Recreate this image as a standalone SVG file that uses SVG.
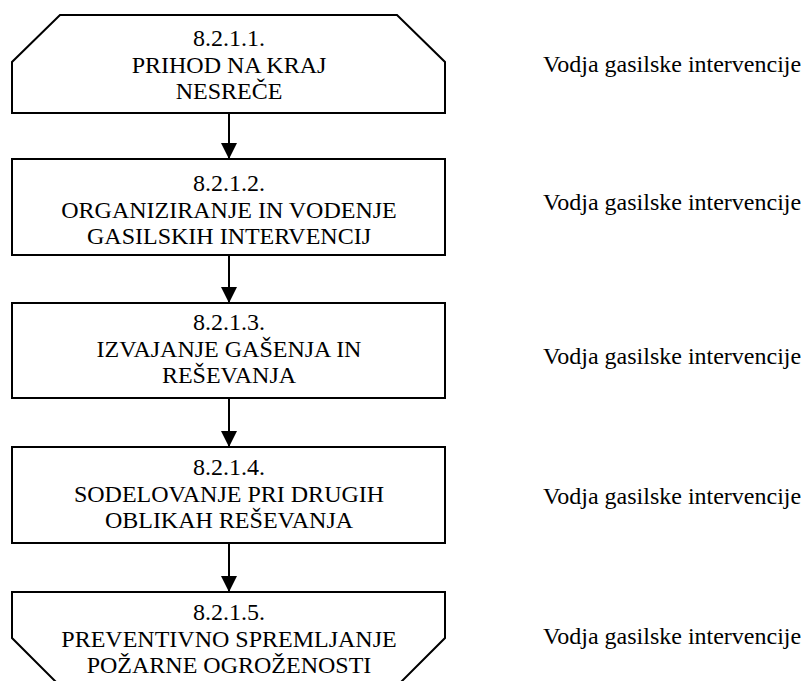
<svg xmlns="http://www.w3.org/2000/svg" width="807" height="681" viewBox="0 0 807 681">
<defs>
<marker id="ah" markerWidth="16" markerHeight="16" viewBox="0 0 16 16" refX="16" refY="8" orient="auto" markerUnits="userSpaceOnUse">
<path d="M0,0 L16,8 L0,16 Z" fill="#000"/>
</marker>
<style>
.box{fill:#fff;stroke:#000;stroke-width:2}
.t{font-family:"Liberation Serif","Times New Roman",serif;font-size:24px;fill:#000;text-anchor:middle}
.r{font-family:"Liberation Serif","Times New Roman",serif;font-size:24px;fill:#000}
.c{stroke:#000;stroke-width:2;fill:none}
</style>
</defs>
<rect width="807" height="681" fill="#fff"/>
<g id="connectors">
<line class="c" x1="229" y1="113" x2="229" y2="159" marker-end="url(#ah)"/>
<line class="c" x1="229" y1="255" x2="229" y2="303" marker-end="url(#ah)"/>
<line class="c" x1="229" y1="398" x2="229" y2="447" marker-end="url(#ah)"/>
<line class="c" x1="229" y1="543" x2="229" y2="592" marker-end="url(#ah)"/>
</g>
<g id="n1">
<path class="box" d="M12,113 L12,62 L60,15 L397,15 L445,62 L445,113 Z"/>
<text class="t" x="229" y="46">8.2.1.1.</text>
<text class="t" x="229" y="72.5">PRIHOD NA KRAJ</text>
<text class="t" x="229" y="99">NESREČE</text>
</g>
<g id="n2">
<rect class="box" x="12" y="159" width="433" height="96"/>
<text class="t" x="229" y="191">8.2.1.2.</text>
<text class="t" x="229" y="217.5">ORGANIZIRANJE IN VODENJE</text>
<text class="t" x="229" y="244">GASILSKIH INTERVENCIJ</text>
</g>
<g id="n3">
<rect class="box" x="12" y="303" width="433" height="95"/>
<text class="t" x="229" y="330">8.2.1.3.</text>
<text class="t" x="229" y="356.5">IZVAJANJE GAŠENJA IN</text>
<text class="t" x="229" y="383">REŠEVANJA</text>
</g>
<g id="n4">
<rect class="box" x="12" y="447" width="433" height="96"/>
<text class="t" x="229" y="475">8.2.1.4.</text>
<text class="t" x="229" y="501.5">SODELOVANJE PRI DRUGIH</text>
<text class="t" x="229" y="528">OBLIKAH REŠEVANJA</text>
</g>
<g id="n5">
<path class="box" d="M12,592 L445,592 L445,638 L397,686 L60,686 L12,638 Z"/>
<text class="t" x="229" y="620">8.2.1.5.</text>
<text class="t" x="229" y="646.5">PREVENTIVNO SPREMLJANJE</text>
<text class="t" x="229" y="673">POŽARNE OGROŽENOSTI</text>
</g>
<g id="labels">
<text class="r" x="543" y="72">Vodja gasilske intervencije</text>
<text class="r" x="543" y="210">Vodja gasilske intervencije</text>
<text class="r" x="543" y="364">Vodja gasilske intervencije</text>
<text class="r" x="543" y="504">Vodja gasilske intervencije</text>
<text class="r" x="543" y="644">Vodja gasilske intervencije</text>
</g>
</svg>
